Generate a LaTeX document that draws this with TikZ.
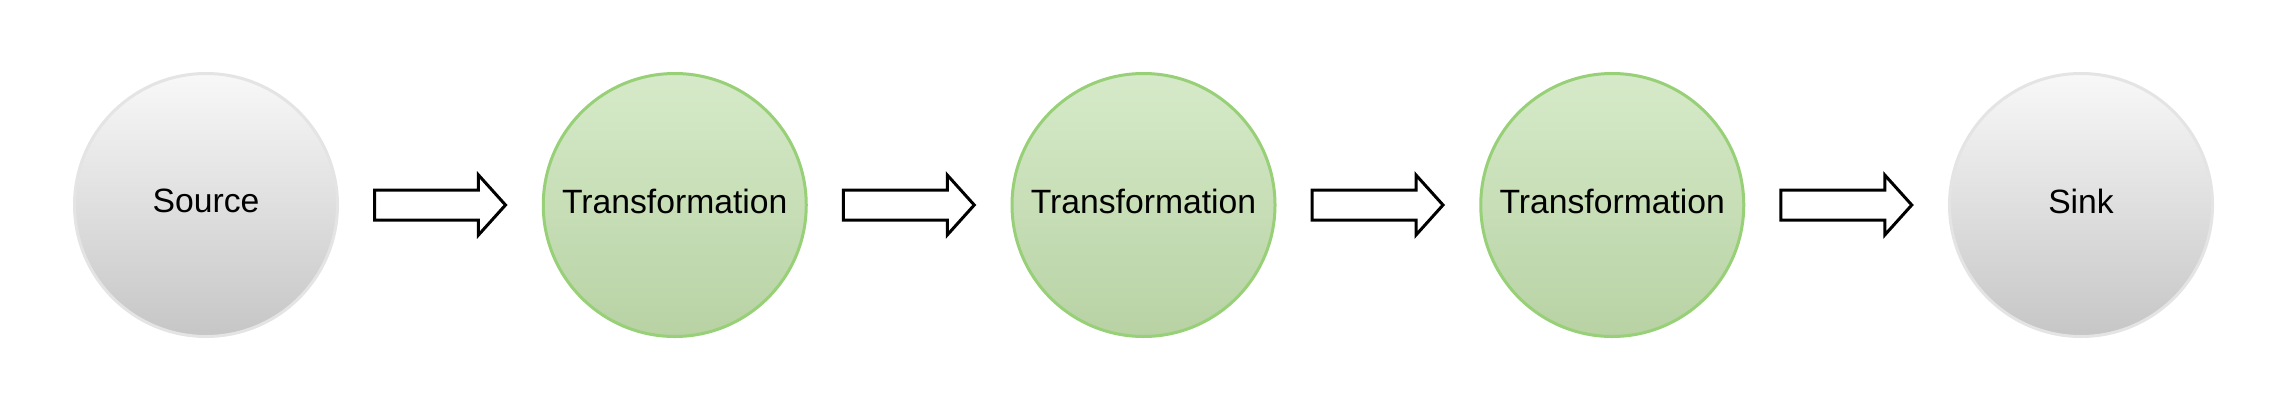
\documentclass[tikz,border=0pt]{standalone}
\usepackage{fontspec}
\setmainfont{Liberation Sans}
\usepackage{xcolor}
\usetikzlibrary{positioning,calc,shapes.arrows}
\definecolor{stepTop}{RGB}{214,234,201}
\definecolor{stepBottom}{RGB}{184,210,164}
\definecolor{stepLine}{RGB}{151,208,119}
\definecolor{endTop}{RGB}{248,248,248}
\definecolor{endBottom}{RGB}{198,198,198}
\definecolor{endLine}{RGB}{228,228,228}
\begin{document}
\begin{tikzpicture}[node distance=205.75pt,outer sep=0pt]
    \tikzstyle{stage} = [circle, minimum size=263pt, inner sep=0pt, line width=3pt, text depth=8pt, font=\fontsize{33.7}{40}\selectfont, text=black]
    \tikzstyle{T} = [stage, draw=stepLine, top color=stepTop, bottom color=stepBottom]
    \tikzstyle{E} = [stage, draw=endLine, top color=endTop, bottom color=endBottom]
    \tikzstyle{flow} = [single arrow, anchor=tail, draw=black, fill=white, line width=3pt, inner sep=13.5pt, single arrow head extend=15pt, single arrow tip angle=96, minimum height=131pt]
    \useasboundingbox (0,0) rectangle (2288pt,-413pt);
    \node (src) [E] at (206pt,-205pt) {Source};
    \node (t1)  [T,right=of src] {Transformation};
    \node (t2)  [T,right=of t1] {Transformation};
    \node (t3)  [T,right=of t2] {Transformation};
    \node (snk) [E,right=of t3] {Sink};
    \node (a1) [flow] at ($(src.east)+(37pt,0)$) {};
    \node (a2) [flow] at ($(t1.east)+(37pt,0)$) {};
    \node (a3) [flow] at ($(t2.east)+(37pt,0)$) {};
    \node (a4) [flow] at ($(t3.east)+(37pt,0)$) {};
\end{tikzpicture}
\end{document}
